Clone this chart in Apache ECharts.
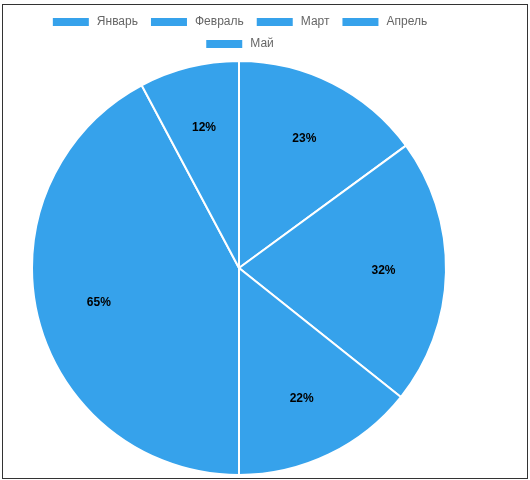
<!DOCTYPE html>
<html>
<head>
<meta charset="utf-8">
<script src="https://cdn.jsdelivr.net/npm/echarts@6/dist/echarts.min.js"></script>
<style>
html,body{margin:0;padding:0;background:#fff;}
#frame{position:absolute;left:2px;top:4px;width:524px;height:473px;border:1px solid #333;}
#chart{position:absolute;left:0;top:0;width:478px;height:480px;}
</style>
</head>
<body>
<div id="frame"></div>
<div id="chart"></div>
<script>
const categories = ['Январь', 'Февраль', 'Март', 'Апрель', 'Май'];
const values = [23, 32, 22, 65, 12];
const barColor = '#36a2eb';

const pieData = categories.map((name, i) => ({ name: name, value: values[i] }));
const legendItem = n => ({ name: n, itemStyle: { color: barColor } });

const chart = echarts.init(document.getElementById('chart'), null, { renderer: 'canvas' });
chart.setOption({
  backgroundColor: 'transparent',
  animation: false,
  legend: [
    {
      data: categories.slice(0, 4).map(legendItem),
      top: 16, left: 'center', padding: 0,
      itemWidth: 38, itemHeight: 10, itemGap: 11,
      icon: 'rect',
      textStyle: { color: '#666', fontSize: 12, fontFamily: 'Liberation Sans, Arial, sans-serif', padding: [0, 0, 0, 2] }
    },
    {
      data: categories.slice(4).map(legendItem),
      top: 38, left: 'center', padding: 0,
      itemWidth: 38, itemHeight: 10, itemGap: 11,
      icon: 'rect',
      textStyle: { color: '#666', fontSize: 12, fontFamily: 'Liberation Sans, Arial, sans-serif', padding: [0, 0, 0, 2] }
    }
  ],
  series: [
    {
      type: 'pie',
      center: [239, 268],
      radius: [0, 207],
      startAngle: 90,
      clockwise: true,
      data: pieData,
      itemStyle: { color: barColor, borderColor: '#fff', borderWidth: 2 },
      label: { show: false },
      labelLine: { show: false },
      emphasis: { disabled: true }
    },
    {
      type: 'pie',
      center: [239, 268],
      radius: [0, 283],
      startAngle: 90,
      clockwise: true,
      silent: true,
      data: pieData,
      itemStyle: { color: 'rgba(0,0,0,0)', borderWidth: 0 },
      label: {
        show: true, position: 'inside', formatter: '{c}%',
        color: '#000', fontWeight: 'bold', fontSize: 12,
        fontFamily: 'Liberation Sans, Arial, sans-serif'
      },
      labelLine: { show: false },
      emphasis: { disabled: true }
    }
  ]
});
</script>
</body>
</html>
